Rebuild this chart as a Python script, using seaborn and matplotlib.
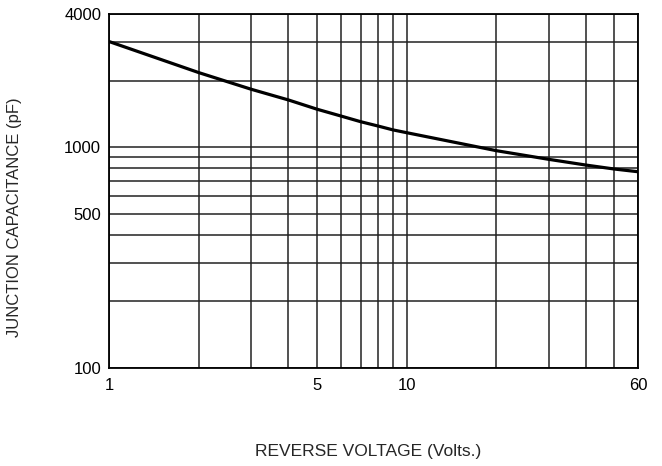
import numpy as np
import pandas as pd
import matplotlib.pyplot as plt
import seaborn as sns

# curve
voltage = [1, 2, 3, 4, 5, 6, 7, 8, 9, 10, 20, 30, 40, 50, 60]
capacitance = [2997, 2170, 1825, 1633, 1482, 1382, 1302, 1245, 1195, 1161, 963, 880, 829, 795, 773]

# grid lines and which ones carry a label
x_grid = [1, 2, 3, 4, 5, 6, 7, 8, 9, 10, 20, 30, 40, 50, 60]
x_labels = ["1", "", "", "", "5", "", "", "", "", "10", "", "", "", "", "60"]
y_grid = [100, 200, 300, 400, 500, 600, 700, 800, 900, 1000, 2000, 3000, 4000]
y_labels = ["100", "", "", "", "500", "", "", "", "", "1000", "", "", "4000"]

sns.set_style("white")
plt.rcParams['font.family'] = ['Liberation Sans', 'DejaVu Sans']

df = pd.DataFrame({"Voltage": voltage, "Capacitance": capacitance})

fig = plt.figure(figsize=(6.62, 4.66), dpi=100)
ax = fig.add_axes([0.1654, 0.2103, 0.7983, 0.7597])

sns.lineplot(data=df, x="Voltage", y="Capacitance", ax=ax, color="black", linewidth=2.3, zorder=3)

ax.set_xscale("log")
ax.set_yscale("log")
ax.set_xlim(1, 60)
ax.set_ylim(100, 4000)

ax.set_xticks(x_grid)
ax.set_xticklabels(x_labels)
ax.set_yticks(y_grid)
ax.set_yticklabels(y_labels)
ax.minorticks_off()
ax.tick_params(axis="both", length=0, labelsize=12, colors="black")
ax.tick_params(axis="x", pad=7)
ax.tick_params(axis="y", pad=6)

ax.grid(True, which="major", color="#222222", linewidth=1.1)
for sp in ax.spines.values():
    sp.set_color("black")
    sp.set_linewidth(1.3)

ax.set_xlabel("REVERSE VOLTAGE (Volts.)", fontsize=12.5)
ax.xaxis.set_label_coords(0.49, -0.215)
ax.set_ylabel("JUNCTION CAPACITANCE (pF)", fontsize=12)
ax.yaxis.set_label_coords(-0.165, 0.425)

plt.savefig("out.png", dpi=100)
plt.close()
